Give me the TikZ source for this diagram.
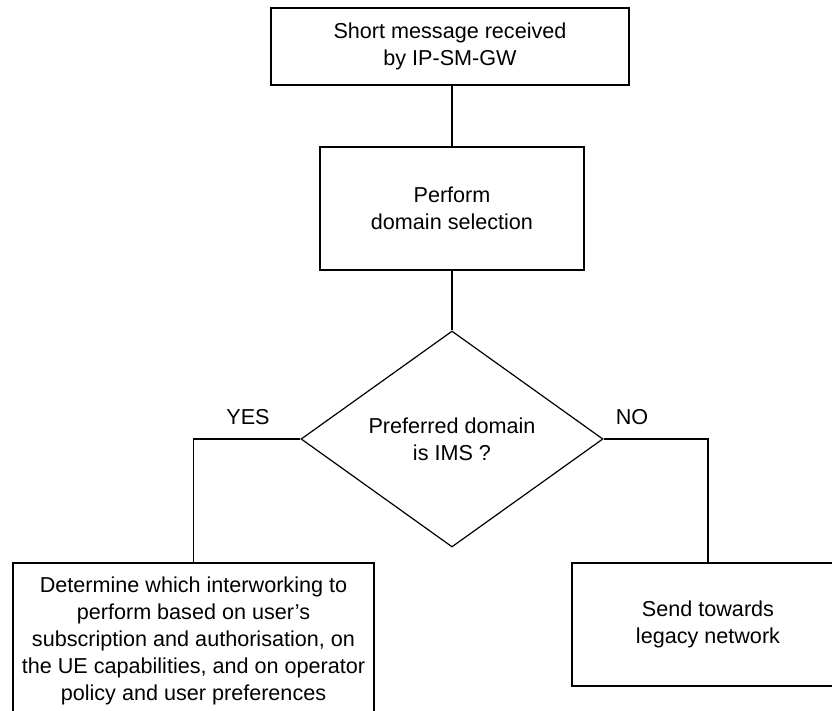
\documentclass[tikz,border=0pt]{standalone}
\usepackage{fontspec}
\setmainfont{Liberation Sans}
\usetikzlibrary{shapes.geometric}

\begin{document}
\begin{tikzpicture}[x=0.5pt, y=-0.5pt, line width=0.6pt, font=\fontsize{10.8}{13.5}\selectfont,
    box node/.style={rectangle,draw,align=center,inner sep=1pt},
    test node/.style={diamond,draw,align=center,aspect=1.4,inner sep=1pt}]

      \useasboundingbox (0,0) rectangle (832,711);
      \clip (0,0) rectangle (832,711);

      \node[box node, minimum width=179pt, minimum height=38.5pt] (recv) at (450,46.5) {Short message received\\by IP-SM-GW};
      \node[box node, minimum width=132pt, minimum height=61.5pt] (select) at (452,208.5) {Perform\\domain selection};
      \node[test node, minimum width=151pt, minimum height=108pt] (pref) at (452,439) {Preferred domain\\is IMS ?};
      \node[box node, minimum width=180.5pt, minimum height=78pt] (interw) at (193.5,641) {Determine which interworking to\\perform based on user's\\subscription and authorisation, on\\the UE capabilities, and on operator\\policy and user preferences};
      \node[box node, minimum width=136pt, minimum height=61.5pt] (legacy) at (708,624.5) {Send towards\\legacy network};

      \node (yes) at (248,417) {YES};
      \node (no) at (632,417) {NO};

      \draw (select.north) -- (select.north |- recv.south);
      \draw (select.south) -- (pref.north);
      \draw (pref.west) -| (interw.north);
      \draw (pref.east) -| (legacy.north);

    \end{tikzpicture}
\end{document}
